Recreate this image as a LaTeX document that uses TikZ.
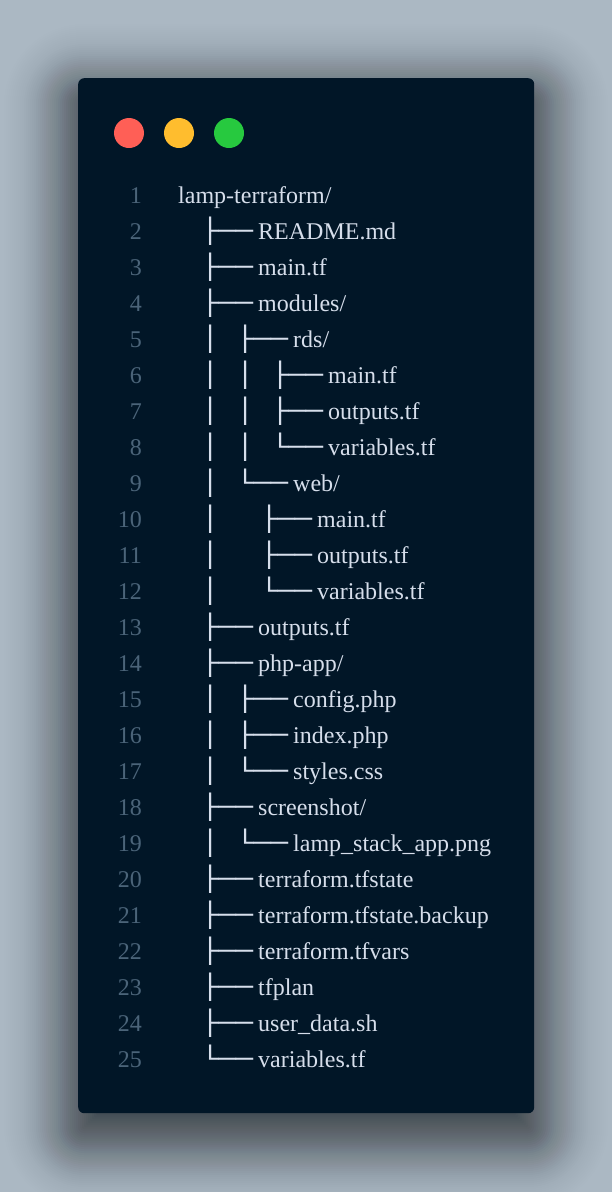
\documentclass[tikz,border=0pt]{standalone}
\usepackage{fontspec}
\setmainfont{Liberation Serif}
\newfontfamily\boxfont[FakeStretch=1.19]{DejaVu Sans Mono}
\definecolor{bgc}{HTML}{ABB8C3}
\definecolor{winc}{HTML}{011627}
\definecolor{fg}{HTML}{D6DEEB}
\definecolor{lnc}{HTML}{4B6479}
\definecolor{redc}{HTML}{FF5F56}
\definecolor{yelc}{HTML}{FFBD2E}
\definecolor{grnc}{HTML}{27C93F}
\def\hc{8.6}
\newcommand\tline[2]{\node[boxg] (v#1-#2) at ({#2-\hc},{203+36*(#1-1)}) {│};}
\newcommand\tbranch[4]{%
  \node[boxg] (b#1) at ({#2-\hc},{203+36*(#1-1)}) {#3};
  \node[fname] (t#1) at ({#2+48},{203+36*(#1-1)}) {#4};}
\begin{document}
\begin{tikzpicture}[x=1pt,y=-1pt,
  fname/.style={font=\fontsize{24}{24}\selectfont, text=fg, inner sep=0, anchor=base west},
  lnum/.style={font=\fontsize{24}{24}\selectfont, text=lnc, inner sep=0, anchor=base east},
  boxg/.style={font=\fontsize{24}{24}\boxfont, text=fg, inner sep=0, anchor=base west},
  light/.style={circle, minimum size=30pt, inner sep=0}]
\fill[bgc] (0,0) rectangle (612,1192);
\useasboundingbox (0,0) rectangle (612,1192);
% soft drop shadow (layered, gaussian-weighted)
\foreach \e in {-80,-78,...,90}{
  \pgfmathsetmacro\rr{max(6+\e,1)}
  \pgfmathsetmacro\aa{0.916*0.3989*2/34*exp(-0.5*(\e/34)*(\e/34))}
  \fill[black, opacity=\aa, rounded corners=\rr pt] ({78-\e},{98-\e}) rectangle ({534+\e},{1133+\e});
}
\node[fill=winc, rounded corners=6pt, minimum width=456pt, minimum height=1035pt,
  inner sep=0, anchor=north west] (win) at (78,78) {};
\node[light, fill=redc] (red) at (129,133) {};
\node[light, fill=yelc] (yel) at (179,133) {};
\node[light, fill=grnc] (grn) at (229,133) {};
\foreach \i in {1,...,25} \node[lnum] (n\i) at (142,{203+36*(\i-1)}) {\i};
\node[fname] (t1) at (178,203) {lamp-terraform/};
\tbranch{2}{210}{├──}{README.md}
\tbranch{3}{210}{├──}{main.tf}
\tbranch{4}{210}{├──}{modules/}
\tline{5}{210}\tbranch{5}{245}{├──}{rds/}
\tline{6}{210}\tline{6}{245}\tbranch{6}{280}{├──}{main.tf}
\tline{7}{210}\tline{7}{245}\tbranch{7}{280}{├──}{outputs.tf}
\tline{8}{210}\tline{8}{245}\tbranch{8}{280}{└──}{variables.tf}
\tline{9}{210}\tbranch{9}{245}{└──}{web/}
\tline{10}{210}\tbranch{10}{269}{├──}{main.tf}
\tline{11}{210}\tbranch{11}{269}{├──}{outputs.tf}
\tline{12}{210}\tbranch{12}{269}{└──}{variables.tf}
\tbranch{13}{210}{├──}{outputs.tf}
\tbranch{14}{210}{├──}{php-app/}
\tline{15}{210}\tbranch{15}{245}{├──}{config.php}
\tline{16}{210}\tbranch{16}{245}{├──}{index.php}
\tline{17}{210}\tbranch{17}{245}{└──}{styles.css}
\tbranch{18}{210}{├──}{screenshot/}
\tline{19}{210}\tbranch{19}{245}{└──}{lamp\_stack\_app.png}
\tbranch{20}{210}{├──}{terraform.tfstate}
\tbranch{21}{210}{├──}{terraform.tfstate.backup}
\tbranch{22}{210}{├──}{terraform.tfvars}
\tbranch{23}{210}{├──}{tfplan}
\tbranch{24}{210}{├──}{user\_data.sh}
\tbranch{25}{210}{└──}{variables.tf}
\end{tikzpicture}
\end{document}
